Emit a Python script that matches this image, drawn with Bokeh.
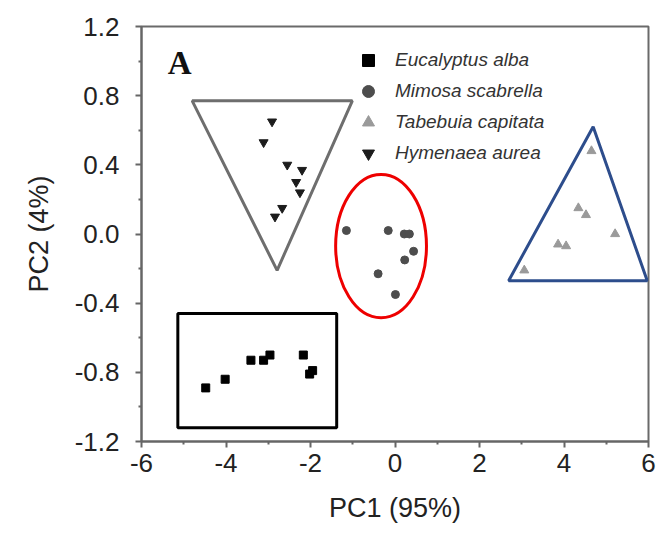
from bokeh.plotting import figure
from bokeh.models import Legend, LegendItem, FixedTicker, Label
from bokeh.embed import file_html
from bokeh.resources import INLINE

# ---- data (PCA scores) ----
species = ["Eucalyptus alba", "Mimosa scabrella", "Tabebuia capitata", "Hymenaea aurea"]

eucalyptus_pc1 = [-4.48, -4.02, -3.41, -3.11, -2.96, -2.17, -2.02, -1.95]
eucalyptus_pc2 = [-0.89, -0.84, -0.73, -0.73, -0.70, -0.70, -0.81, -0.79]

mimosa_pc1 = [-1.15, -0.16, 0.22, 0.34, 0.44, 0.23, -0.40, 0.01]
mimosa_pc2 = [0.02, 0.02, 0.00, 0.00, -0.10, -0.15, -0.23, -0.35]

tabebuia_pc1 = [4.65, 4.34, 4.52, 5.21, 3.86, 4.05, 3.06]
tabebuia_pc2 = [0.48, 0.15, 0.11, 0.00, -0.06, -0.07, -0.21]

hymenaea_pc1 = [-2.91, -3.11, -2.55, -2.20, -2.34, -2.25, -2.67, -2.84]
hymenaea_pc2 = [0.65, 0.53, 0.40, 0.37, 0.30, 0.24, 0.15, 0.10]

# group outlines drawn by hand in the figure
hymenaea_hull_x = [-4.80, -1.01, -2.79]
hymenaea_hull_y = [0.77, 0.77, -0.21]
tabebuia_hull_x = [4.69, 2.69, 5.97]
tabebuia_hull_y = [0.62, -0.27, -0.27]
mimosa_ellipse = dict(x=-0.33, y=-0.07, w=2.15, h=0.83)
eucalyptus_box = dict(left=-5.14, right=-1.38, top=-0.46, bottom=-1.12)

x_ticks = [-6, -4, -2, 0, 2, 4, 6]
x_tick_labels = ["-6", "-4", "-2", "0", "2", "4", "6"]
x_minor = [-5, -3, -1, 1, 3, 5]
y_ticks = [-1.2, -0.8, -0.4, 0.0, 0.4, 0.8, 1.2]
y_tick_labels = ["-1.2", "-0.8", "-0.4", "0.0", "0.4", "0.8", "1.2"]
y_minor = [-1.0, -0.6, -0.2, 0.2, 0.6, 1.0]

FONT = "Liberation Sans"

p = figure(width=656, height=539, x_range=(-6, 6), y_range=(-1.2, 1.2),
           output_backend="svg", toolbar_location=None,
           min_border_left=141, min_border_right=8, min_border_top=26, min_border_bottom=98)
p.background_fill_color = "white"
p.border_fill_color = "white"
p.xgrid.visible = False
p.ygrid.visible = False
p.outline_line_color = "#6a6a6a"
p.outline_line_width = 2

# group outlines
p.patch(hymenaea_hull_x, hymenaea_hull_y, fill_color=None, line_color="#6e6e6e", line_width=3)
p.patch(tabebuia_hull_x, tabebuia_hull_y, fill_color=None, line_color="#2d4d8c", line_width=3)
p.ellipse(x=[mimosa_ellipse["x"]], y=[mimosa_ellipse["y"]], width=[mimosa_ellipse["w"]],
          height=[mimosa_ellipse["h"]], fill_color=None, line_color="#ee0000", line_width=3)
p.quad(left=[eucalyptus_box["left"]], right=[eucalyptus_box["right"]],
       top=[eucalyptus_box["top"]], bottom=[eucalyptus_box["bottom"]],
       fill_color=None, line_color="black", line_width=3)

# data points
colors = ["#000000", "#4d4d4d", "#9a9a9a", "#1c1c1c"]
markers = ["square", "circle", "triangle", "inverted_triangle"]
sizes = [8, 8, 9, 9]
data = [(eucalyptus_pc1, eucalyptus_pc2), (mimosa_pc1, mimosa_pc2),
        (tabebuia_pc1, tabebuia_pc2), (hymenaea_pc1, hymenaea_pc2)]

items = []
for name, (xs, ys), c, m, s in zip(species, data, colors, markers, sizes):
    r = p.scatter(xs, ys, marker=m, size=s, fill_color=c, line_color=c)
    items.append(LegendItem(label=name, renderers=[r]))

# glyph box 30 px -> legend marker ~12 px; row pitch ~31 px
legend = Legend(items=items, location=(212, 273), padding=0, margin=0, spacing=1,
                glyph_width=30, glyph_height=30, label_height=30, label_standoff=12,
                border_line_color=None, background_fill_alpha=0,
                label_text_font=FONT, label_text_font_style="italic",
                label_text_font_size="19px", label_text_color="#333333")
p.add_layout(legend, "center")

p.add_layout(Label(x=-5.38, y=0.99, text="A", text_font="Liberation Serif",
                   text_font_style="bold", text_font_size="33px", text_color="#111111",
                   text_baseline="alphabetic"))

# axes
p.xaxis.ticker = FixedTicker(ticks=x_ticks, minor_ticks=x_minor)
p.yaxis.ticker = FixedTicker(ticks=y_ticks, minor_ticks=y_minor)
p.xaxis.major_label_overrides = {t: l for t, l in zip(x_ticks, x_tick_labels)}
p.yaxis.major_label_overrides = {t: l for t, l in zip(y_ticks, y_tick_labels)}
p.xaxis.axis_label = "PC1 (95%)"
p.yaxis.axis_label = "PC2 (4%)"
for ax in (p.xaxis, p.yaxis):
    ax.axis_line_color = "#666666"
    ax.axis_line_width = 2
    ax.major_tick_line_color = "#666666"
    ax.minor_tick_line_color = "#666666"
    ax.major_tick_line_width = 2
    ax.minor_tick_line_width = 2
    ax.major_tick_out = 6
    ax.major_tick_in = 0
    ax.minor_tick_out = 3
    ax.minor_tick_in = 0
    ax.major_label_text_font = FONT
    ax.major_label_text_font_size = "26px"
    ax.major_label_text_color = "#222222"
    ax.axis_label_text_font = FONT
    ax.axis_label_text_font_size = "27px"
    ax.axis_label_text_font_style = "normal"
    ax.axis_label_text_color = "#222222"
p.yaxis.major_label_standoff = 16
p.yaxis.axis_label_standoff = 18
p.xaxis.major_label_standoff = 6
p.xaxis.axis_label_standoff = 18

open("out.html", "w").write(file_html(p, INLINE))
